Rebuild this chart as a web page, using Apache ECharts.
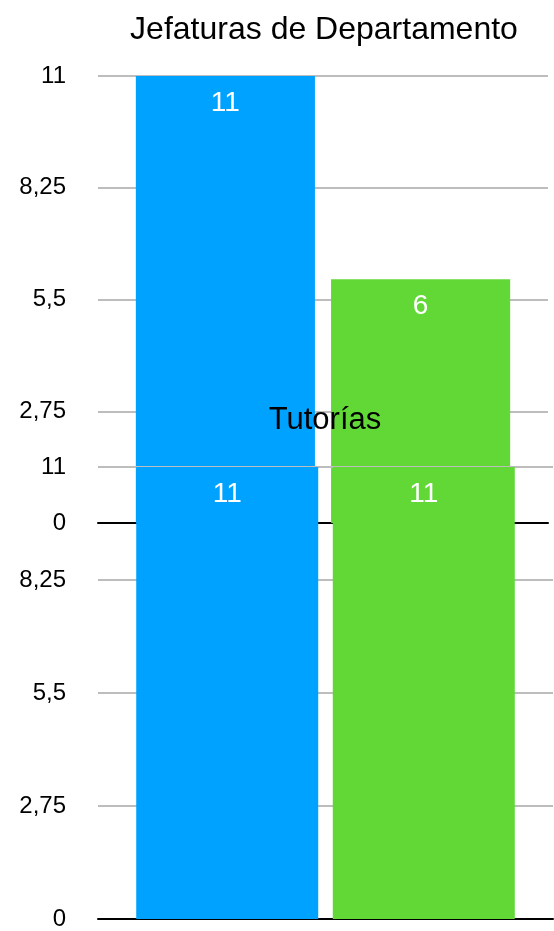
<!DOCTYPE html>
<html><head><meta charset="utf-8">
<script src="https://cdn.jsdelivr.net/npm/echarts@6/dist/echarts.min.js"></script>
<style>html,body{margin:0;padding:0;background:#fff}#c{width:554px;height:931px}</style>
</head><body><div id="c"></div>
<script>
const categories = [''];
const titles = ['Jefaturas de Departamento', 'Tutorías'];
const seriesNames = ['Serie 1', 'Serie 2'];
const jefaturasValues = [11, 6];
const tutoriasValues = [11, 11];
const tickLabels = {0: '0', 2.75: '2,75', 5.5: '5,5', 8.25: '8,25', 11: '11'};
const colors = ['#00A2FF', '#61D836'];

const FONT = 'Liberation Sans';
const chart = echarts.init(document.getElementById('c'));

function yAxis(gridIndex, z) {
  return {
    type: 'value', gridIndex, min: 0, max: 11, interval: 2.75, z,
    axisLine: {show: false}, axisTick: {show: false},
    splitLine: {lineStyle: {color: '#bdbdbd', width: 2}},
    axisLabel: {color: '#000', fontSize: 24, fontFamily: FONT, margin: 32, padding: [4, 0, 0, 0],
      formatter: v => tickLabels[v] !== undefined ? tickLabels[v] : String(v).replace('.', ',')}
  };
}
function xAxis(gridIndex, z) {
  return {
    type: 'category', gridIndex, data: categories, z,
    axisLine: {lineStyle: {color: '#000', width: 2}},
    axisTick: {show: false}, axisLabel: {show: false}
  };
}
function bars(values, idx, z, width, gap) {
  return values.map((v, i) => ({
    type: 'bar', name: seriesNames[i], xAxisIndex: idx, yAxisIndex: idx, z,
    data: [v], barWidth: width, barGap: gap,
    itemStyle: {color: colors[i]},
    label: {show: true, position: 'insideTop', distance: 13, color: '#fff',
      fontSize: 28, fontFamily: FONT}
  }));
}

chart.setOption({
  animation: false,
  title: [
    {text: titles[0], left: 319, top: 9, textAlign: 'center', z: 10,
      textStyle: {fontSize: 32, fontWeight: 'normal', color: '#000', fontFamily: FONT}},
    {text: titles[1], left: 320, top: 400, textAlign: 'center', z: 10,
      textStyle: {fontSize: 31, fontWeight: 'normal', color: '#000', fontFamily: FONT}}
  ],
  grid: [
    {left: 98, right: 6, top: 76, bottom: 408},
    {left: 98, right: 1, top: 467, bottom: 11}
  ],
  xAxis: [xAxis(0, 0), xAxis(1, 4)],
  yAxis: [yAxis(0, 0), yAxis(1, 4)],
  series: [
    ...bars(jefaturasValues, 0, 2, '39.8%', '9%'),
    ...bars(tutoriasValues, 1, 6, '40%', '8%')
  ]
});
</script></body></html>
